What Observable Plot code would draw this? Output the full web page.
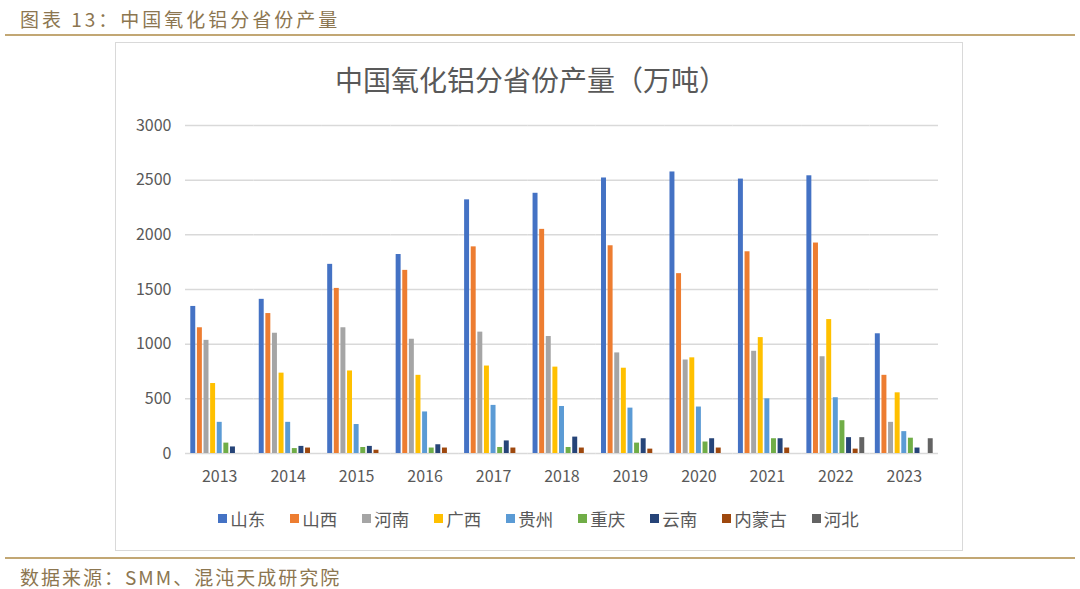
<!DOCTYPE html>
<html><head><meta charset="utf-8">
<script src="https://cdn.jsdelivr.net/npm/d3@7"></script>
<script src="https://cdn.jsdelivr.net/npm/@observablehq/plot@0.6"></script>
<style>
body{margin:0;background:#fff;width:1080px;height:589px;position:relative;overflow:hidden;font-family:"Noto Sans CJK SC","Noto Sans",sans-serif;}
.hdr{position:absolute;left:20px;top:5px;font-size:19px;color:#8c7650;letter-spacing:3px;}
.ln{position:absolute;left:5px;width:1070px;height:0;border-top:2px solid #c2a774;}
.box{position:absolute;left:115px;top:42px;width:846px;height:507px;border:1px solid #d9d9d9;}
.ttl{position:absolute;left:115px;width:832px;top:59px;text-align:center;font-size:28px;color:#595959;}
#chart{position:absolute;left:115px;top:100px;}
.lg{position:absolute;left:115px;width:847px;top:506px;display:flex;justify-content:center;gap:25px;font-size:17.5px;color:#595959;}
.lg span.it{display:flex;align-items:center;}
.lg i{display:inline-block;width:9px;height:9px;margin-right:3px;}
.ftr{position:absolute;left:20px;top:563px;font-size:19px;color:#8c7650;letter-spacing:2px;}
</style></head>
<body>
<div class="hdr">图表 13：中国氧化铝分省份产量</div>
<div class="ln" style="top:34px"></div>
<div class="box"></div>
<div class="ttl">中国氧化铝分省份产量（万吨）</div>
<div id="chart"></div>
<div class="lg" id="legend"></div>
<div class="ln" style="top:557px"></div>
<div class="ftr">数据来源：SMM、混沌天成研究院</div>
<script>
const years = ["2013","2014","2015","2016","2017","2018","2019","2020","2021","2022","2023"];
const provinces = ["山东","山西","河南","广西","贵州","重庆","云南","内蒙古","河北"];
const colors = ["#4472C4","#ED7D31","#A5A5A5","#FFC000","#5B9BD5","#70AD47","#264478","#9E480E","#636363"];
const yTicks = [0,500,1000,1500,2000,2500,3000];

const shandong  = [1345,1410,1730,1820,2320,2380,2520,2575,2510,2540,1095];
const shanxi    = [1150,1280,1510,1675,1890,2050,1900,1645,1845,1925,715];
const henan     = [1035,1100,1150,1045,1110,1070,920,855,935,885,285];
const guangxi   = [640,735,755,715,800,790,780,875,1060,1225,555];
const guizhou   = [285,285,265,380,440,430,415,425,500,510,200];
const chongqing = [95,45,55,50,55,55,95,105,135,300,140];
const yunnan    = [60,65,65,80,115,150,135,135,135,145,50];
const neimenggu = [null,50,30,50,50,50,40,50,50,40,null];
const hebei     = [null,null,null,null,null,null,null,null,null,145,135];

const series = [shandong,shanxi,henan,guangxi,guizhou,chongqing,yunnan,neimenggu,hebei];
const data = [];
years.forEach((y,i)=>provinces.forEach((p,j)=>{
  const v = series[j][i];
  if (v != null) data.push({year:y, province:p, value:v});
}));

const plot = Plot.plot({
  width: 847, height: 393,
  marginLeft: 70, marginRight: 24, marginTop: 25, marginBottom: 40,
  style: {fontFamily: '"Noto Sans CJK SC","Noto Sans",sans-serif', fontSize: "16px", color: "#595959", background: "transparent"},
  fx: {domain: years, padding: 0, label: null, round: false},
  x: {domain: provinces, axis: null, paddingInner: 0.25, paddingOuter: 0.8, round: false},
  y: {domain: [0,3000], label: null},
  color: {domain: provinces, range: colors},
  marks: [
    Plot.gridY(yTicks, {stroke: "#d9d9d9", strokeOpacity: 1, strokeWidth: 1.5}),
    Plot.axisY(yTicks, {tickSize: 0, tickPadding: 14, label: null, fill: "#595959", tickFormat: d => String(d)}),
    Plot.axisFx({anchor: "bottom", tickSize: 0, tickPadding: 17, label: null, fill: "#595959"}),
    Plot.barY(data, {fx: "year", x: "province", y: "value", fill: "province"})
  ]
});
document.getElementById("chart").appendChild(plot);

const lg = document.getElementById("legend");
provinces.forEach((p,j)=>{
  const s = document.createElement("span"); s.className = "it";
  s.innerHTML = `<i style="background:${colors[j]}"></i>${p}`;
  lg.appendChild(s);
});
</script>
</body></html>
